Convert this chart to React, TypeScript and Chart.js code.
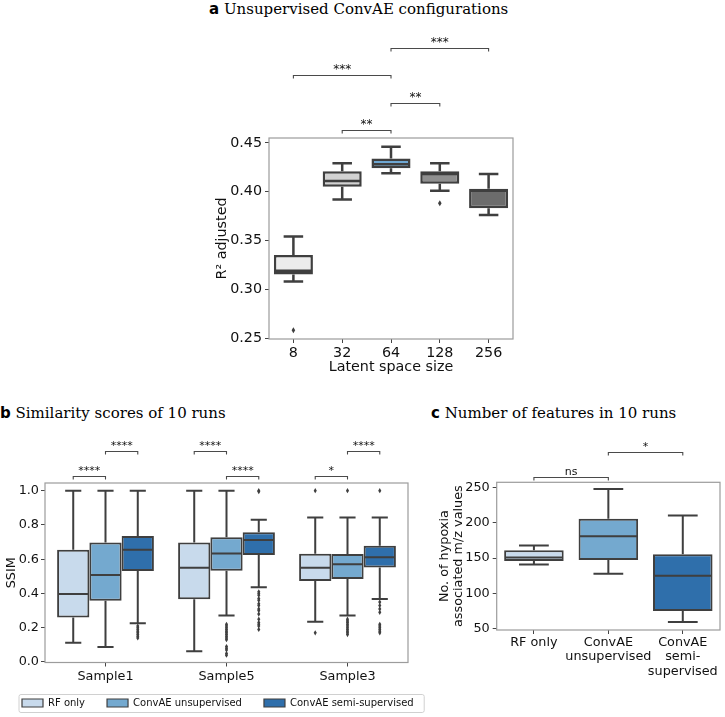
import React, { useEffect, useRef } from 'react';
import { Chart, registerables } from 'chart.js';

Chart.register(...registerables);

// ---------------- Panel a: Unsupervised ConvAE configurations ----------------
const latentSizes = ['8', '32', '64', '128', '256'];
const aLowWhisker = [0.308, 0.392, 0.419, 0.401, 0.376];
const aQ1 = [0.315, 0.405, 0.424, 0.408, 0.383];
const aMedian = [0.319, 0.411, 0.428, 0.418, 0.401];
const aQ3 = [0.335, 0.421, 0.434, 0.421, 0.403];
const aHighWhisker = [0.354, 0.429, 0.446, 0.429, 0.418];
const aOutliers = [[0.258], [], [], [0.388], []];
const aTicks = [0.25, 0.3, 0.35, 0.4, 0.45];
const aColors = ['#ececec', '#d2d2d2', '#6ea7d2', '#8f8f8f', '#6c6c6c'];
const aBrackets = [
  { a: [0, 1], b: [0, 2], level: 0, label: '**' },
  { a: [0, 2], b: [0, 3], level: 1, label: '**' },
  { a: [0, 0], b: [0, 2], level: 2, label: '***' },
  { a: [0, 2], b: [0, 4], level: 3, label: '***' },
];

// ---------------- Panel b: Similarity scores of 10 runs ----------------
const samples = ['Sample1', 'Sample5', 'Sample3'];
const methods = ['RF only', 'ConvAE unsupervised', 'ConvAE semi-supervised'];
const methodColors = ['#c8daec', '#74a9cf', '#2f6fab'];
const bTicks = [0.0, 0.2, 0.4, 0.6, 0.8, 1.0];

const rfLow = [0.113, 0.062, 0.235];
const rfQ1 = [0.26, 0.366, 0.473];
const rfMedian = [0.397, 0.55, 0.55];
const rfQ3 = [0.656, 0.697, 0.632];
const rfHigh = [1.0, 1.0, 0.844];
const rfOutliers = [[], [], [1.0, 0.17]];

const unsupLow = [0.088, 0.272, 0.272];
const unsupQ1 = [0.358, 0.533, 0.484];
const unsupMedian = [0.508, 0.634, 0.57];
const unsupQ3 = [0.698, 0.728, 0.63];
const unsupHigh = [1.0, 1.0, 0.844];
const unsupOutliers = [
  [],
  [0.22, 0.21, 0.2, 0.19, 0.18, 0.17, 0.16, 0.15, 0.14, 0.13, 0.09, 0.08, 0.07, 0.05, 0.04],
  [1.0, 0.25, 0.24, 0.23, 0.22, 0.21, 0.2, 0.19, 0.18, 0.17, 0.16],
];

const semiLow = [0.226, 0.436, 0.368];
const semiQ1 = [0.531, 0.625, 0.552];
const semiMedian = [0.656, 0.712, 0.611];
const semiQ3 = [0.735, 0.757, 0.679];
const semiHigh = [1.0, 0.831, 0.844];
const semiOutliers = [
  [0.21, 0.2, 0.19, 0.18, 0.17, 0.16, 0.15, 0.14],
  [1.0, 0.995, 0.41, 0.4, 0.39, 0.37, 0.36, 0.34, 0.33, 0.31, 0.3, 0.28, 0.25, 0.23, 0.22, 0.21, 0.19],
  [1.0, 0.35, 0.33, 0.31, 0.29, 0.22, 0.21, 0.2, 0.19, 0.18, 0.17],
];

const bBrackets = [
  { a: [0, 0], b: [1, 0], level: 0, label: '****' },
  { a: [1, 0], b: [2, 0], level: 1, label: '****' },
  { a: [0, 1], b: [1, 1], level: 1, label: '****' },
  { a: [1, 1], b: [2, 1], level: 0, label: '****' },
  { a: [0, 2], b: [1, 2], level: 0, label: '*' },
  { a: [1, 2], b: [2, 2], level: 1, label: '****' },
];

// ---------------- Panel c: Number of features in 10 runs ----------------
const featureLabels = [['RF only'], ['ConvAE', 'unsupervised'], ['ConvAE', 'semi-', 'supervised']];
const cLowWhisker = [141, 128, 59.5];
const cQ1 = [146, 147.5, 75];
const cMedian = [151, 181, 125];
const cQ3 = [161, 206, 155.5];
const cHighWhisker = [168, 248, 210.5];
const cOutliers = [[], [], []];
const cTicks = [50, 100, 150, 200, 250];
const cBrackets = [
  { a: [0, 0], b: [0, 1], level: 0, label: 'ns' },
  { a: [0, 1], b: [0, 2], level: 1, label: '*' },
];

// ---------------- styling ----------------
const LINE = '#3f3f3f';
const TEXT = '#111111';
const FRAME = '#9c9c9c';
const TICK = '#444444';
const FONT = "'DejaVu Sans', sans-serif";

Chart.defaults.font.family = FONT;
Chart.defaults.color = TEXT;

const boxPlugin = {
  id: 'boxWhiskers',
  afterDatasetsDraw(chart: any, _args: any, opts: any) {
    const ctx = chart.ctx;
    const ys = chart.scales.y;
    const lw = opts.lineWidth || 2;
    const p = (v: number) => ys.getPixelForValue(v);
    chart.data.datasets.forEach((ds: any, di: number) => {
      const st = ds.stats;
      if (!st) return;
      const meta = chart.getDatasetMeta(di);
      meta.data.forEach((el: any, j: number) => {
        const { x, width } = el.getProps(['x', 'width'], true);
        const [q1, q3] = ds.data[j];
        ctx.save();
        ctx.strokeStyle = LINE;
        ctx.lineWidth = lw;
        ctx.lineCap = 'butt';
        ctx.beginPath();
        ctx.moveTo(x, p(q1));
        ctx.lineTo(x, p(st.low[j]));
        ctx.moveTo(x, p(q3));
        ctx.lineTo(x, p(st.high[j]));
        const cw = width * 0.25;
        ctx.moveTo(x - cw, p(st.low[j]));
        ctx.lineTo(x + cw, p(st.low[j]));
        ctx.moveTo(x - cw, p(st.high[j]));
        ctx.lineTo(x + cw, p(st.high[j]));
        ctx.moveTo(x - width / 2 + lw / 2, p(st.med[j]));
        ctx.lineTo(x + width / 2 - lw / 2, p(st.med[j]));
        ctx.stroke();
        ctx.fillStyle = LINE;
        const s = opts.outlierSize || 3;
        (st.out[j] || []).forEach((v: number) => {
          const py = p(v);
          ctx.beginPath();
          ctx.moveTo(x, py - s);
          ctx.lineTo(x + s * 0.6, py);
          ctx.lineTo(x, py + s);
          ctx.lineTo(x - s * 0.6, py);
          ctx.closePath();
          ctx.fill();
        });
        ctx.restore();
      });
    });
  },
};

const framePlugin = {
  id: 'frame',
  beforeDatasetsDraw(chart: any) {
    const { ctx, chartArea: a } = chart;
    ctx.save();
    ctx.strokeStyle = FRAME;
    ctx.lineWidth = 1.2;
    ctx.strokeRect(a.left, a.top, a.right - a.left, a.bottom - a.top);
    ctx.restore();
  },
};

const bracketPlugin = {
  id: 'brackets',
  afterDraw(chart: any, _args: any, opts: any) {
    const { ctx, chartArea } = chart;
    (opts.pairs || []).forEach((pr: any) => {
      const xa = chart.getDatasetMeta(pr.a[0]).data[pr.a[1]].x;
      const xb = chart.getDatasetMeta(pr.b[0]).data[pr.b[1]].x;
      const y = Math.round(chartArea.top - opts.base - pr.level * opts.step) + 0.5;
      ctx.save();
      ctx.strokeStyle = '#4a4a4a';
      ctx.lineWidth = 1.1;
      ctx.beginPath();
      ctx.moveTo(xa, y + 3);
      ctx.lineTo(xa, y);
      ctx.lineTo(xb, y);
      ctx.lineTo(xb, y + 3);
      ctx.stroke();
      ctx.font = `${opts.fontSize || 12}px ${FONT}`;
      ctx.fillStyle = TEXT;
      ctx.textAlign = 'center';
      ctx.textBaseline = 'alphabetic';
      ctx.fillText(pr.label, (xa + xb) / 2, y - 3);
      ctx.restore();
    });
  },
};

const legendFramePlugin = {
  id: 'legendFrame',
  afterDraw(chart: any) {
    const lg = chart.legend;
    if (!lg || !lg.options.display || !lg.legendHitBoxes || !lg.legendHitBoxes.length) return;
    const hb = lg.legendHitBoxes;
    const first = hb[0];
    const last = hb[hb.length - 1];
    const left = first.left - 3.5;
    const right = last.left + last.width + 10;
    const cy = first.top + first.height / 2;
    const ctx = chart.ctx;
    ctx.save();
    ctx.strokeStyle = '#d0d0d0';
    ctx.lineWidth = 1;
    ctx.beginPath();
    (ctx as any).roundRect(left + 0.5, Math.round(cy - 9) + 0.5, right - left, 18, 2);
    ctx.stroke();
    ctx.restore();
  },
};

function tickGrid() {
  return {
    display: true,
    drawOnChartArea: false,
    drawTicks: true,
    offset: false,
    tickLength: 4,
    tickColor: TICK,
    tickWidth: 1,
  };
}

function makeA(): any {
  return {
    type: 'bar',
    data: {
      labels: latentSizes,
      datasets: [
        {
          label: 'R² adjusted',
          yAxisID: 'y',
          data: latentSizes.map((_, i) => [aQ1[i], aQ3[i]]),
          backgroundColor: aColors,
          borderColor: LINE,
          borderWidth: 2.5,
          borderSkipped: false,
          categoryPercentage: 0.8,
          barPercentage: 1,
          stats: { low: aLowWhisker, med: aMedian, high: aHighWhisker, out: aOutliers },
        },
      ],
    },
    options: {
      animation: false,
      responsive: false,
      maintainAspectRatio: false,
      layout: { padding: { top: 118, right: 17, left: 0, bottom: 0 } },
      plugins: {
        legend: { display: false },
        tooltip: { enabled: false },
        boxWhiskers: { lineWidth: 2.5, outlierSize: 3 },
        brackets: { pairs: aBrackets, base: 8, step: 27.3, fontSize: 12 },
      },
      scales: {
        x: {
          type: 'category',
          offset: true,
          grid: tickGrid(),
          border: { display: false },
          ticks: { font: { size: 14.3 }, color: TEXT, padding: 2, maxRotation: 0, autoSkip: false },
          title: {
            display: true,
            text: 'Latent space size',
            font: { size: 14.3 },
            color: TEXT,
            padding: { top: 0, bottom: 4.4 },
          },
          afterFit: (s: any) => {
            s.height = 41;
          },
        },
        y: {
          type: 'linear',
          bounds: 'data',
          min: 0.249,
          max: 0.455,
          afterBuildTicks: (s: any) => {
            s.ticks = aTicks.map((v) => ({ value: v }));
          },
          grid: tickGrid(),
          border: { display: false },
          ticks: {
            font: { size: 14.3 },
            color: TEXT,
            padding: 3,
            callback: (v: any) => Number(v).toFixed(2),
          },
          title: {
            display: true,
            text: 'R² adjusted',
            font: { size: 14.3 },
            color: TEXT,
            padding: { top: 33.4, bottom: 0 },
          },
          afterFit: (s: any) => {
            s.width = 89;
          },
        },
      },
    },
    plugins: [framePlugin, boxPlugin, bracketPlugin],
  };
}

function makeB(): any {
  const stats = [
    { q1: rfQ1, q3: rfQ3, low: rfLow, med: rfMedian, high: rfHigh, out: rfOutliers },
    { q1: unsupQ1, q3: unsupQ3, low: unsupLow, med: unsupMedian, high: unsupHigh, out: unsupOutliers },
    { q1: semiQ1, q3: semiQ3, low: semiLow, med: semiMedian, high: semiHigh, out: semiOutliers },
  ];
  return {
    type: 'bar',
    data: {
      labels: samples,
      datasets: methods.map((m, k) => ({
        label: m,
        yAxisID: 'y',
        data: samples.map((_, i) => [stats[k].q1[i], stats[k].q3[i]]),
        backgroundColor: methodColors[k],
        borderColor: LINE,
        borderWidth: 2,
        borderSkipped: false,
        categoryPercentage: 0.8,
        barPercentage: 1,
        stats: { low: stats[k].low, med: stats[k].med, high: stats[k].high, out: stats[k].out },
      })),
    },
    options: {
      animation: false,
      responsive: false,
      maintainAspectRatio: false,
      layout: { padding: { top: 58, right: 0, left: 0, bottom: 0 } },
      plugins: {
        legend: {
          display: true,
          position: 'bottom',
          align: 'start',
          labels: {
            boxWidth: 21,
            boxHeight: 8,
            padding: 22,
            font: { size: 10 },
            color: TEXT,
            generateLabels: (chart: any) =>
              (Chart.defaults.plugins.legend.labels as any)
                .generateLabels(chart)
                .map((l: any) => ({ ...l, lineWidth: 1.2 })),
          },
        },
        tooltip: { enabled: false },
        boxWhiskers: { lineWidth: 2, outlierSize: 2.6 },
        brackets: { pairs: bBrackets, base: 7, step: 25, fontSize: 11 },
      },
      scales: {
        x: {
          type: 'category',
          offset: true,
          grid: tickGrid(),
          border: { display: false },
          ticks: { font: { size: 12.8 }, color: TEXT, padding: 2, maxRotation: 0, autoSkip: false },
          afterFit: (s: any) => {
            s.height = 13.5;
            // the tick labels extend into the legend band below; do not clip them
            s._computeLabelArea = () => undefined;
          },
        },
        y: {
          type: 'linear',
          bounds: 'data',
          min: -0.003,
          max: 1.045,
          afterBuildTicks: (s: any) => {
            s.ticks = bTicks.map((v) => ({ value: v }));
          },
          grid: tickGrid(),
          border: { display: false },
          ticks: {
            font: { size: 12.8 },
            color: TEXT,
            padding: 2,
            callback: (v: any) => Number(v).toFixed(1),
          },
          title: {
            display: true,
            text: 'SSIM',
            font: { size: 12.8 },
            color: TEXT,
            padding: { top: 4, bottom: 0 },
          },
          afterFit: (s: any) => {
            s.width = 45;
          },
        },
        yR: {
          type: 'linear',
          position: 'right',
          display: true,
          grid: { display: false },
          border: { display: false },
          ticks: { display: false },
          afterFit: (s: any) => {
            s.width = 52;
          },
        },
      },
    },
    plugins: [framePlugin, boxPlugin, bracketPlugin, legendFramePlugin],
  };
}

function makeC(): any {
  return {
    type: 'bar',
    data: {
      labels: featureLabels,
      datasets: [
        {
          label: 'No. of features',
          yAxisID: 'y',
          data: featureLabels.map((_, i) => [cQ1[i], cQ3[i]]),
          backgroundColor: methodColors,
          borderColor: LINE,
          borderWidth: 2,
          borderSkipped: false,
          categoryPercentage: 0.8,
          barPercentage: 1,
          stats: { low: cLowWhisker, med: cMedian, high: cHighWhisker, out: cOutliers },
        },
      ],
    },
    options: {
      animation: false,
      responsive: false,
      maintainAspectRatio: false,
      layout: { padding: { top: 52.3, right: 5, left: 0, bottom: 0 } },
      plugins: {
        legend: { display: false },
        tooltip: { enabled: false },
        boxWhiskers: { lineWidth: 2, outlierSize: 2.6 },
        brackets: { pairs: cBrackets, base: 5.3, step: 25.3, fontSize: 11 },
      },
      scales: {
        x: {
          type: 'category',
          offset: true,
          grid: tickGrid(),
          border: { display: false },
          ticks: { font: { size: 12.8, lineHeight: 1.15 }, color: TEXT, padding: 1, maxRotation: 0, autoSkip: false },
          afterFit: (s: any) => {
            s.height = 87;
          },
        },
        y: {
          type: 'linear',
          bounds: 'data',
          min: 48,
          max: 257.6,
          afterBuildTicks: (s: any) => {
            s.ticks = cTicks.map((v) => ({ value: v }));
          },
          grid: tickGrid(),
          border: { display: false },
          ticks: {
            font: { size: 12.8 },
            color: TEXT,
            padding: 3,
            callback: (v: any) => String(Math.round(Number(v))),
          },
          title: {
            display: true,
            text: ['No. of hypoxia', 'associated m/z values'],
            font: { size: 12.8, lineHeight: 1.15 },
            color: TEXT,
            padding: { top: 32, bottom: 0 },
          },
          afterFit: (s: any) => {
            s.width = 91.7;
          },
        },
      },
    },
    plugins: [framePlugin, boxPlugin, bracketPlugin],
  };
}

const titleStyle: React.CSSProperties = {
  position: 'absolute',
  fontFamily: "'DejaVu Serif', serif",
  fontSize: '15px',
  lineHeight: '18px',
  color: '#000',
  whiteSpace: 'nowrap',
};
const boldStyle: React.CSSProperties = {
  fontFamily: "'DejaVu Sans', sans-serif",
  fontWeight: 'bold',
};

export default function App() {
  const refA = useRef<HTMLCanvasElement>(null);
  const refB = useRef<HTMLCanvasElement>(null);
  const refC = useRef<HTMLCanvasElement>(null);

  useEffect(() => {
    const charts: Chart[] = [];
    if (refA.current) charts.push(new Chart(refA.current, makeA()));
    if (refB.current) charts.push(new Chart(refB.current, makeB()));
    if (refC.current) charts.push(new Chart(refC.current, makeC()));
    return () => charts.forEach((c) => c.destroy());
  }, []);

  return (
    <div
      style={{
        position: 'absolute',
        left: 0,
        top: 0,
        width: 725,
        height: 717,
        overflow: 'hidden',
        background: '#fff',
      }}
    >
      <div style={{ ...titleStyle, left: 209, top: 0 }}>
        <span style={boldStyle}>a</span> Unsupervised ConvAE configurations
      </div>
      <div style={{ ...titleStyle, left: 0, top: 404 }}>
        <span style={boldStyle}>b</span> Similarity scores of 10 runs
      </div>
      <div style={{ ...titleStyle, left: 431, top: 404 }}>
        <span style={boldStyle}>c</span> Number of features in 10 runs
      </div>
      <canvas
        ref={refA}
        width={350}
        height={360}
        style={{ position: 'absolute', left: 180, top: 20, width: 350, height: 360 }}
      />
      <canvas
        ref={refB}
        width={460}
        height={293}
        style={{ position: 'absolute', left: 0, top: 425, width: 460, height: 293 }}
      />
      <canvas
        ref={refC}
        width={320}
        height={287}
        style={{ position: 'absolute', left: 405, top: 430, width: 320, height: 287 }}
      />
    </div>
  );
}
